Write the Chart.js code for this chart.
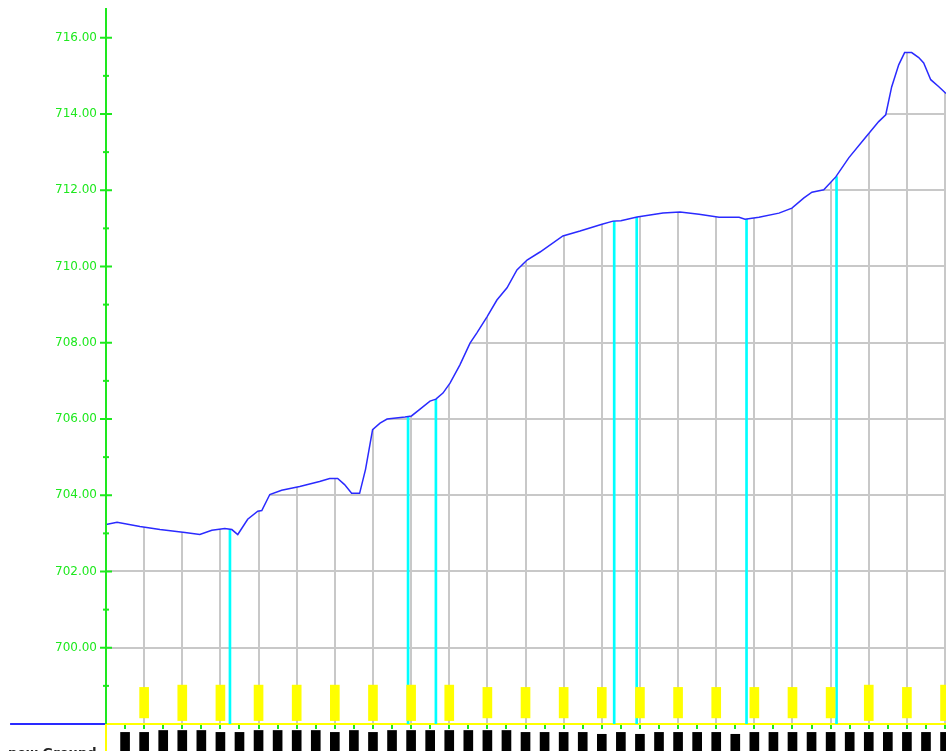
<!DOCTYPE html>
<html>
<head>
<meta charset="utf-8">
<script src="https://cdn.jsdelivr.net/npm/chart.js@4.4.1/dist/chart.umd.min.js"></script>
<style>
  html, body { margin: 0; padding: 0; background: #fff; }
  #wrap { width: 946px; height: 751px; position: relative; }
</style>
</head>
<body>
<div id="wrap"><canvas id="profile"></canvas></div>
<script>
// ground line: chainage (m) and elevation (m)
const stations = [0, 5.8, 17.8, 28.3, 41.4, 49.2, 55.5, 62.3, 66.0, 69.1, 74.3, 79.6, 81.7, 85.9,
  92.1, 101.6, 112.0, 117.3, 121.5, 125.1, 128.8, 133.0, 136.1, 139.8, 143.7, 147.4, 156.8, 160.2,
  164.7, 169.9, 173.0, 176.7, 180.4, 185.6, 190.9, 194.5, 199.8, 205.0, 210.3, 215.5, 220.8, 227.6,
  239.6, 248.6, 260.1, 265.9, 270.0, 278.5, 292.1, 301.0, 311.0, 321.5, 332.0, 335.1, 342.4, 352.9,
  359.7, 366.0, 370.2, 376.4, 382.7, 389.5, 397.4, 405.2, 408.9, 412.0, 415.7, 418.8, 422.5, 426.2,
  428.8, 432.5, 436.6, 440.5];
const elevations = [703.23, 703.29, 703.18, 703.10, 703.02, 702.97, 703.08, 703.13, 703.10, 702.97,
  703.37, 703.58, 703.60, 704.02, 704.13, 704.23, 704.36, 704.44, 704.44, 704.28, 704.05, 704.05,
  704.68, 705.72, 705.89, 706.00, 706.05, 706.08, 706.26, 706.47, 706.52, 706.68, 706.94, 707.42,
  707.99, 708.26, 708.68, 709.12, 709.44, 709.91, 710.17, 710.38, 710.80, 710.93, 711.11, 711.19,
  711.20, 711.30, 711.40, 711.43, 711.37, 711.29, 711.29, 711.24, 711.29, 711.40, 711.53, 711.80,
  711.95, 712.01, 712.35, 712.85, 713.33, 713.80, 713.98, 714.71, 715.29, 715.61, 715.61, 715.48,
  715.34, 714.90, 714.72, 714.54];

// structures crossing the line
const structureStations = [65.0, 158.4, 173.0, 266.5, 278.3, 335.9, 383.1];
const structureTops = [703.10, 706.06, 706.52, 711.19, 711.30, 711.24, 712.36];

// marker blocks every 20 m
const markerStations = [20, 40, 60, 80, 100, 120, 140, 160, 180, 200, 220, 240, 260, 280, 300,
  320, 340, 360, 380, 400, 420, 440];
const markerLow = [698.16, 698.09, 698.09, 698.09, 698.09, 698.09, 698.09, 698.09, 698.09, 698.16,
  698.16, 698.16, 698.16, 698.16, 698.16, 698.16, 698.16, 698.16, 698.16, 698.09, 698.16, 698.09];
const markerHigh = [698.96, 699.02, 699.02, 699.02, 699.02, 699.02, 699.02, 699.02, 699.02, 698.96,
  698.96, 698.96, 698.96, 698.96, 698.96, 698.96, 698.96, 698.96, 698.96, 699.02, 698.96, 699.02];

// elevation band below the axis, every 10 m
const bandStations = [10, 20, 30, 40, 50, 60, 70, 80, 90, 100, 110, 120, 130, 140, 150, 160, 170,
  180, 190, 200, 210, 220, 230, 240, 250, 260, 270, 280, 290, 300, 310, 320, 330, 340, 350, 360,
  370, 380, 390, 400, 410, 420, 430, 440];
const bandTops = [697.78, 697.78, 697.83, 697.83, 697.83, 697.78, 697.78, 697.83, 697.83, 697.83,
  697.83, 697.78, 697.83, 697.78, 697.83, 697.83, 697.83, 697.83, 697.83, 697.83, 697.83, 697.78,
  697.78, 697.78, 697.78, 697.73, 697.78, 697.73, 697.78, 697.78, 697.78, 697.78, 697.73, 697.78,
  697.78, 697.78, 697.78, 697.78, 697.78, 697.78, 697.78, 697.78, 697.78, 697.78];
const bandBottom = 696;

const elevTicks = [700, 702, 704, 706, 708, 710, 712, 714, 716];
const chainTicks = [0, 10, 20, 30, 40, 50, 60, 70, 80, 90, 100, 110, 120, 130, 140, 150, 160, 170,
  180, 190, 200, 210, 220, 230, 240, 250, 260, 270, 280, 290, 300, 310, 320, 330, 340, 350, 360,
  370, 380, 390, 400, 410, 420, 430, 440];
const datum = 698;
const legendStations = [-50.3, 0];
const groundLabel = 'new Ground';

const GREEN = '#1ee81e';
const YELLOW = '#ffff00';
const GRID = '#c8c8c8';
const BLUE = '#2a2aff';

// axis line, crossing ticks and the band caption
const axisDecor = {
  id: 'axisDecor',
  afterDatasetsDraw(chart) {
    const { ctx, chartArea, scales } = chart;
    const x0 = chartArea.left;
    ctx.save();
    ctx.lineWidth = 2;
    ctx.strokeStyle = GREEN;
    ctx.beginPath();
    ctx.moveTo(x0, chartArea.top);
    ctx.lineTo(x0, chartArea.bottom);
    ctx.stroke();
    for (let v = 699; v <= 716; v++) {
      const y = scales.y.getPixelForValue(v);
      const h = v % 2 === 0 ? 6 : 3;
      ctx.beginPath();
      ctx.moveTo(x0 - h, y);
      ctx.lineTo(x0 + h, y);
      ctx.stroke();
    }
    ctx.strokeStyle = YELLOW;
    ctx.beginPath();
    ctx.moveTo(x0, chartArea.bottom);
    ctx.lineTo(x0, chart.height);
    ctx.stroke();
    ctx.restore();
  },
  afterDraw(chart) {
    const { ctx } = chart;
    ctx.save();
    ctx.fillStyle = '#222';
    ctx.font = 'bold 13px "DejaVu Sans"';
    ctx.textBaseline = 'alphabetic';
    ctx.fillText(groundLabel, 8, 757);
    ctx.restore();
  }
};

new Chart(document.getElementById('profile'), {
  type: 'line',
  data: {
    datasets: [
      {
        label: 'ground',
        order: 1,
        data: stations.map((s, i) => ({ x: s, y: elevations[i] })),
        borderColor: BLUE,
        borderWidth: 1.5,
        backgroundColor: '#ffffff',
        fill: 'end',
        pointRadius: 0,
        tension: 0
      },
      {
        label: 'legend',
        order: 0,
        data: legendStations.map(s => ({ x: s, y: datum })),
        borderColor: BLUE,
        borderWidth: 2,
        pointRadius: 0,
        fill: false,
        clip: false
      },
      {
        type: 'bar',
        label: 'structures',
        order: 2,
        grouped: false,
        barThickness: 2,
        backgroundColor: '#00ffff',
        data: structureStations.map((s, i) => ({ x: s, y: [datum, structureTops[i]] }))
      },
      {
        type: 'bar',
        label: 'markers',
        order: 0,
        grouped: false,
        barThickness: 9,
        backgroundColor: YELLOW,
        data: markerStations.map((s, i) => ({ x: s, y: [markerLow[i], markerHigh[i]] }))
      },
      {
        type: 'bar',
        label: 'band',
        order: 0,
        grouped: false,
        barThickness: 9,
        backgroundColor: '#000000',
        clip: false,
        data: bandStations.map((s, i) => ({ x: s, y: [bandBottom, bandTops[i]] }))
      }
    ]
  },
  options: {
    responsive: true,
    maintainAspectRatio: false,
    animation: false,
    layout: { padding: { top: 8, right: 0, bottom: 0, left: 0 } },
    plugins: { legend: { display: false }, tooltip: { enabled: false } },
    scales: {
      x: {
        type: 'linear',
        min: 0,
        max: 440.5,
        offset: false,
        afterBuildTicks: s => { s.ticks = chainTicks.map(v => ({ value: v })); },
        afterFit: s => { s.height = 27; s.paddingLeft = 0; s.paddingRight = 0; },
        ticks: { display: false, autoSkip: false },
        grid: {
          offset: false,
          color: c => (c.tick && c.tick.value % 20 === 0 ? GRID : 'rgba(0,0,0,0)'),
          lineWidth: 2,
          drawTicks: true,
          tickLength: 5,
          tickWidth: 2,
          tickColor: GREEN
        },
        border: { color: YELLOW, width: 2 }
      },
      y: {
        type: 'linear',
        min: datum,
        max: 716.78,
        afterBuildTicks: s => { s.ticks = elevTicks.map(v => ({ value: v })); },
        afterFit: s => { s.width = 106; s.paddingTop = 0; s.paddingBottom = 0; },
        ticks: {
          color: GREEN,
          padding: 9,
          font: { family: 'DejaVu Sans', size: 12 },
          callback: v => Number(v).toFixed(2)
        },
        grid: { color: GRID, lineWidth: 2, drawTicks: false },
        border: { display: false }
      }
    }
  },
  plugins: [axisDecor]
});
</script>
</body>
</html>
